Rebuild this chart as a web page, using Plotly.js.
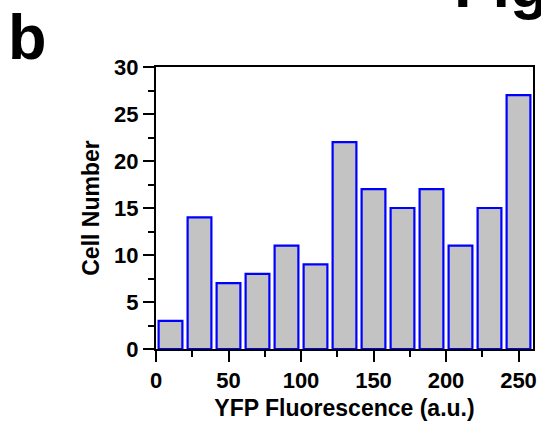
<!DOCTYPE html>
<html>
<head>
<meta charset="utf-8">
<script src="https://cdn.plot.ly/plotly-3.0.1.min.js"></script>
<style>html,body{margin:0;padding:0;background:#fff;}#chart{width:541px;height:421px;}</style>
</head>
<body>
<div id="chart"></div>
<script>
const binCenters = [10, 30, 50, 70, 90, 110, 130, 150, 170, 190, 210, 230, 250];
const cellCounts = [3, 14, 7, 8, 11, 9, 22, 17, 15, 17, 11, 15, 27];
const xTickVals = [0, 50, 100, 150, 200, 250];
const yTickVals = [0, 5, 10, 15, 20, 25, 30];
const panelLabel = 'b';
const figLabel = 'Fig';
const xTitle = 'YFP Fluorescence (a.u.)';
const yTitle = 'Cell Number';

const FONT = 'Liberation Sans, Arial, sans-serif';

const trace = {
  type: 'bar',
  x: binCenters,
  y: cellCounts,
  width: 16.4,
  marker: {color: '#c3c3c3', line: {color: '#0000ff', width: 2.2}},
  hoverinfo: 'skip'
};

const axisCommon = {
  showline: true, linecolor: '#000', linewidth: 2, mirror: true,
  showgrid: false, zeroline: false,
  ticks: 'outside', ticklen: 11, tickwidth: 2, tickcolor: '#000',
  tickfont: {family: FONT, size: 22, color: '#000', weight: 'bold'},
  automargin: false
};

const layout = {
  width: 541, height: 421,
  margin: {l: 156, r: 8, t: 67, b: 72},
  paper_bgcolor: '#fff', plot_bgcolor: '#fff',
  showlegend: false,
  bargap: 0,
  xaxis: Object.assign({}, axisCommon, {
    range: [0, 260],
    tickmode: 'array', tickvals: xTickVals,
    minor: {dtick: 25, tick0: 0, ticks: 'outside', ticklen: 6, tickwidth: 2, tickcolor: '#000'},
    title: {text: xTitle, font: {family: FONT, size: 23, color: '#000', weight: 'bold'}, standoff: 10}
  }),
  yaxis: Object.assign({}, axisCommon, {
    range: [0, 30],
    tickmode: 'array', tickvals: yTickVals,
    minor: {dtick: 2.5, tick0: 0, ticks: 'outside', ticklen: 6, tickwidth: 2, tickcolor: '#000'},
    title: {text: yTitle, font: {family: FONT, size: 23, color: '#000', weight: 'bold'}, standoff: 8}
  }),
  annotations: [
    {text: panelLabel, xref: 'paper', yref: 'paper', x: -0.397, y: 1.237, xanchor: 'left', yanchor: 'top',
     showarrow: false, font: {family: FONT, size: 63, color: '#000', weight: 'bold'}},
    {text: figLabel, xref: 'paper', yref: 'paper', x: 0.786, y: 1.16, xanchor: 'left', yanchor: 'bottom',
     showarrow: false, font: {family: FONT, size: 63, color: '#000', weight: 'bold'}}
  ]
};

Plotly.newPlot('chart', [trace], layout, {displayModeBar: false, staticPlot: true});
</script>
</body>
</html>
